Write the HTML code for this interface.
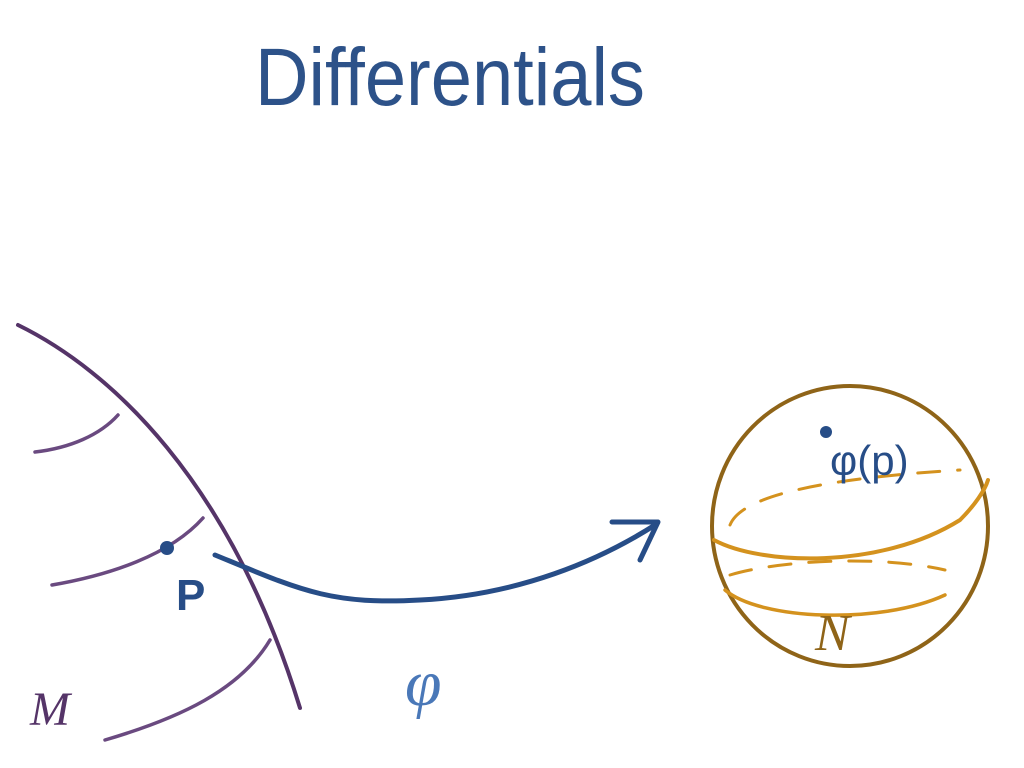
<!DOCTYPE html>
<html><head><style>body{margin:0;background:#fff}svg{display:block}</style></head>
<body>
<svg width="1024" height="768" viewBox="0 0 1024 768" xmlns="http://www.w3.org/2000/svg">
<rect width="1024" height="768" fill="#fff"/>
<text x="255" y="105" font-family="Liberation Sans, sans-serif" font-size="82" fill="#2d5289" textLength="390" lengthAdjust="spacingAndGlyphs">Differentials</text>
<g fill="none" stroke-linecap="round">
<path d="M18 325 C110 370 230 480 300 708" stroke="#553468" stroke-width="4"/>
<path d="M35 452 C70 448 100 435 118 415" stroke="#6a4a80" stroke-width="3.5"/>
<path d="M52 585 C110 575 170 555 203 518" stroke="#6a4a80" stroke-width="3.5"/>
<path d="M105 740 C180 718 240 690 270 640" stroke="#6a4a80" stroke-width="3.5"/>
<path d="M215 555 C300 590 330 605 420 600 C520 595 600 560 655 525" stroke="#274d87" stroke-width="5"/>
<path d="M612 522 L658 522 L640 560" stroke="#274d87" stroke-width="5" stroke-linejoin="round"/>
<ellipse cx="850" cy="526" rx="138" ry="140" stroke="#8f6418" stroke-width="4"/>
<path d="M714 540 C760 565 880 570 960 520 C975 505 985 490 988 480" stroke="#d4921e" stroke-width="4"/>
<path d="M730 525 C740 500 800 480 960 470" stroke="#d4921e" stroke-width="3" stroke-dasharray="22 18"/>
<path d="M725 590 C760 620 880 625 945 595" stroke="#d4921e" stroke-width="3.5"/>
<path d="M730 575 C780 560 880 555 945 570" stroke="#d4921e" stroke-width="3" stroke-dasharray="22 18"/>
</g>
<circle cx="167" cy="548" r="7" fill="#274d87"/>
<circle cx="826" cy="432" r="6" fill="#274d87"/>
<text x="176" y="610" font-family="Liberation Sans, sans-serif" font-size="44" font-weight="bold" fill="#274d87">P</text>
<text x="405" y="705" font-family="Liberation Serif, serif" font-style="italic" font-size="66" fill="#4a78b8">φ</text>
<text x="30" y="725" font-family="Liberation Serif, serif" font-style="italic" font-size="48" fill="#553468">M</text>
<text x="830" y="475" font-family="Liberation Sans, sans-serif" font-size="42" fill="#274d87">φ(p)</text>
<text x="815" y="650" font-family="Liberation Serif, serif" font-style="italic" font-size="52" fill="#8f6418">N</text>
</svg>
</body></html>
